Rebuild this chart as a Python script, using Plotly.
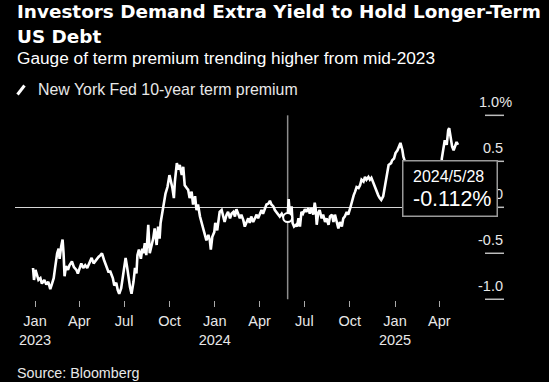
import plotly.graph_objects as go

# ---------------- data ----------------
dates = [
    "2022-12-28", "2022-12-30", "2023-01-02", "2023-01-05", "2023-01-08", "2023-01-12", "2023-01-15",
    "2023-01-20", "2023-01-24", "2023-01-28", "2023-02-01", "2023-02-04", "2023-02-08", "2023-02-11",
    "2023-02-15", "2023-02-18", "2023-02-20", "2023-02-23", "2023-02-26", "2023-02-28", "2023-03-02",
    "2023-03-05", "2023-03-09", "2023-03-12", "2023-03-17", "2023-03-21", "2023-03-26", "2023-03-29",
    "2023-04-01", "2023-04-05", "2023-04-09", "2023-04-13", "2023-04-17", "2023-04-22", "2023-04-26",
    "2023-04-30", "2023-05-05", "2023-05-10", "2023-05-14", "2023-05-17", "2023-05-21", "2023-05-25",
    "2023-05-30", "2023-06-03", "2023-06-08", "2023-06-11", "2023-06-15", "2023-06-18", "2023-06-21",
    "2023-06-25", "2023-06-28", "2023-07-01", "2023-07-04", "2023-07-07", "2023-07-10", "2023-07-13",
    "2023-07-16", "2023-07-20", "2023-07-23", "2023-07-26", "2023-07-28", "2023-07-31", "2023-08-04",
    "2023-08-07", "2023-08-09", "2023-08-12", "2023-08-15", "2023-08-19", "2023-08-22", "2023-08-26",
    "2023-08-29", "2023-09-01", "2023-09-05", "2023-09-08", "2023-09-11", "2023-09-13", "2023-09-16",
    "2023-09-20", "2023-09-23", "2023-09-27", "2023-10-01", "2023-10-04", "2023-10-07", "2023-10-10",
    "2023-10-12", "2023-10-16", "2023-10-19", "2023-10-22", "2023-10-26", "2023-10-29", "2023-11-01",
    "2023-11-05", "2023-11-08", "2023-11-11", "2023-11-15", "2023-11-18", "2023-11-22", "2023-11-25",
    "2023-11-28", "2023-12-02", "2023-12-05", "2023-12-08", "2023-12-12", "2023-12-15", "2023-12-19",
    "2023-12-22", "2023-12-24", "2023-12-27", "2023-12-31", "2024-01-02", "2024-01-06", "2024-01-11",
    "2024-01-15", "2024-01-18", "2024-01-21", "2024-01-25", "2024-01-28", "2024-02-01", "2024-02-04",
    "2024-02-08", "2024-02-11", "2024-02-14", "2024-02-18", "2024-02-21", "2024-02-24", "2024-02-28",
    "2024-03-02", "2024-03-05", "2024-03-09", "2024-03-12", "2024-03-15", "2024-03-19", "2024-03-22",
    "2024-03-26", "2024-03-29", "2024-04-02", "2024-04-05", "2024-04-08", "2024-04-12", "2024-04-15",
    "2024-04-19", "2024-04-22", "2024-04-25", "2024-04-29", "2024-05-02", "2024-05-05", "2024-05-09",
    "2024-05-12", "2024-05-16", "2024-05-19", "2024-05-23", "2024-05-28", "2024-05-30", "2024-05-31",
    "2024-06-02", "2024-06-05", "2024-06-07", "2024-06-10", "2024-06-14", "2024-06-16", "2024-06-19",
    "2024-06-22", "2024-06-25", "2024-06-28", "2024-07-02", "2024-07-05", "2024-07-09", "2024-07-12",
    "2024-07-15", "2024-07-19", "2024-07-22", "2024-07-24", "2024-07-26", "2024-07-29", "2024-08-01",
    "2024-08-05", "2024-08-08", "2024-08-12", "2024-08-15", "2024-08-19", "2024-08-22", "2024-08-26",
    "2024-08-29", "2024-09-01", "2024-09-05", "2024-09-08", "2024-09-11", "2024-09-15", "2024-09-18",
    "2024-09-21", "2024-09-25", "2024-09-28", "2024-10-02", "2024-10-05", "2024-10-09", "2024-10-12",
    "2024-10-15", "2024-10-19", "2024-10-22", "2024-10-25", "2024-10-29", "2024-11-01", "2024-11-04",
    "2024-11-08", "2024-11-11", "2024-11-14", "2024-11-18", "2024-11-21", "2024-11-24", "2024-11-28",
    "2024-12-01", "2024-12-04", "2024-12-08", "2024-12-11", "2024-12-13", "2024-12-17", "2024-12-19",
    "2024-12-24", "2024-12-26", "2024-12-30", "2025-01-02", "2025-01-06", "2025-01-09", "2025-01-12",
    "2025-01-16", "2025-01-18", "2025-01-22", "2025-01-27", "2025-01-31", "2025-02-04", "2025-02-07",
    "2025-02-11", "2025-02-14", "2025-02-19", "2025-02-24", "2025-02-28", "2025-03-04", "2025-03-07",
    "2025-03-11", "2025-03-14", "2025-03-19", "2025-03-24", "2025-03-28", "2025-04-02", "2025-04-04",
    "2025-04-06", "2025-04-09", "2025-04-12", "2025-04-16", "2025-04-19", "2025-04-21", "2025-04-24",
    "2025-04-27", "2025-04-30", "2025-05-03", "2025-05-06", "2025-05-09",
]
term_premium = [
    -0.66, -0.79, -0.68, -0.74, -0.79, -0.77, -0.83,
    -0.79, -0.84, -0.81, -0.89, -0.84, -0.77, -0.65,
    -0.50, -0.45, -0.56, -0.43, -0.35, -0.50, -0.75,
    -0.64, -0.68, -0.63, -0.59, -0.65, -0.68, -0.72,
    -0.66, -0.61, -0.66, -0.63, -0.66, -0.59, -0.55,
    -0.61, -0.57, -0.54, -0.52, -0.50, -0.57, -0.63,
    -0.70, -0.70, -0.77, -0.85, -0.82, -0.90, -0.94,
    -0.88, -0.77, -0.65, -0.55, -0.65, -0.77, -0.87,
    -0.94, -0.81, -0.66, -0.72, -0.52, -0.46, -0.56,
    -0.45, -0.50, -0.39, -0.52, -0.19, -0.50, -0.41,
    -0.34, -0.23, -0.41, -0.21, -0.34, -0.17, -0.08,
    0.03, 0.15, 0.22, 0.35, 0.28, 0.21, 0.10,
    0.28, 0.48, 0.41, 0.46, 0.35, 0.44, 0.24,
    0.21, 0.19, 0.10, 0.17, 0.03, 0.12, -0.03,
    0.03, -0.10, -0.16, -0.21, -0.32, -0.36, -0.30,
    -0.36, -0.46, -0.32, -0.27, -0.17, -0.25, -0.05,
    -0.03, -0.10, -0.16, -0.08, -0.05, -0.12, -0.07,
    -0.05, -0.10, -0.02, -0.07, -0.12, -0.08, -0.14,
    -0.21, -0.16, -0.12, -0.17, -0.10, -0.16, -0.12,
    -0.08, -0.12, -0.07, -0.03, -0.07, -0.01, 0.03,
    0.04, 0.07, 0.03, 0.01, -0.03, -0.05, -0.07,
    -0.10, -0.07, -0.10, -0.12, -0.112, 0.09, -0.03,
    -0.10, 0.01, -0.17, -0.21, -0.19, -0.21, -0.12,
    -0.21, -0.05, -0.07, -0.02, -0.05, -0.01, -0.07,
    -0.01, -0.08, 0.05, -0.02, -0.19, -0.06, -0.03,
    -0.12, -0.08, -0.16, -0.12, -0.19, -0.10, -0.08,
    -0.16, -0.08, -0.19, -0.23, -0.16, -0.21, -0.12,
    -0.10, -0.05, -0.08, -0.01, 0.06, 0.13, 0.17,
    0.22, 0.21, 0.24, 0.30, 0.28, 0.33, 0.30,
    0.33, 0.30, 0.32, 0.26, 0.22, 0.19, 0.13,
    0.10, 0.08, 0.12, 0.21, 0.30, 0.39, 0.46,
    0.48, 0.51, 0.53, 0.59, 0.62, 0.66, 0.70,
    0.62, 0.55, 0.48, 0.43, 0.45, 0.40, 0.45,
    0.49, 0.42, 0.42, 0.31, 0.26, 0.22, 0.32,
    0.30, 0.38, 0.33, 0.42, 0.36, 0.34, 0.26,
    0.53, 0.62, 0.73, 0.68, 0.84, 0.86, 0.73,
    0.66, 0.62, 0.68, 0.71, 0.68,
]

hover_date = ["2024-05-28"]
hover_value = [-0.112]
hover_label = "2024/5/28"

x_tickvals = ["2023-01-01", "2023-04-01", "2023-07-01", "2023-10-01", "2024-01-01",
              "2024-04-01", "2024-07-01", "2024-10-01", "2025-01-01", "2025-04-01"]
x_ticktext = ["Jan<br>2023", "Apr", "Jul", "Oct", "Jan<br>2024",
              "Apr", "Jul", "Oct", "Jan<br>2025", "Apr"]
y_tickvals = [1.0, 0.5, 0.0, -0.5, -1.0]
y_ticktext = ["1.0%", "0.5", "0", "-0.5", "-1.0"]

title_line1 = "Investors Demand Extra Yield to Hold Longer-Term"
title_line2 = "US Debt"
subtitle = "Gauge of term premium trending higher from mid-2023"
series_name = "New York Fed 10-year term premium"
source = "Source: Bloomberg"

# ---------------- layout helpers ----------------
W, H = 549, 382
L, R, T, B = 15, 64, 110, 82
PW, PH = W - L - R, H - T - B


def px(xp):
    return (xp - L) / PW


def py(yp):
    return (H - B - yp) / PH


BODY = "Liberation Sans, Arial, sans-serif"
TITLE = "DejaVu Sans, Verdana, sans-serif"
TXT = "#e8e8e8"

fig = go.Figure()
fig.add_trace(go.Scatter(
    x=dates, y=term_premium, mode="lines", name=series_name,
    line=dict(color="white", width=2.6), showlegend=False, hoverinfo="skip",
))
fig.add_trace(go.Scatter(
    x=hover_date, y=hover_value, mode="markers", showlegend=False, hoverinfo="skip",
    marker=dict(size=9, color="black", line=dict(color="white", width=2)),
))

shapes = []
# hover crosshair (vertical)
shapes.append(dict(type="line", xref="x", yref="y", x0=hover_date[0], x1=hover_date[0],
                   y0=min(y_tickvals), y1=max(y_tickvals),
                   line=dict(color="#8e8e8e", width=1.5), layer="below"))
# right-side short tick marks
for v in y_tickvals:
    shapes.append(dict(type="line", xref="paper", yref="y", x0=1.0, x1=px(504), y0=v, y1=v,
                       line=dict(color="#bdbdbd", width=1.5)))
# legend icon (diagonal stroke)
shapes.append(dict(type="line", xref="paper", yref="paper", x0=px(17.5), y0=py(94.5),
                   x1=px(24.5), y1=py(85.5), line=dict(color="white", width=3)))

ann = []
ann.append(dict(text=f"<b>{title_line1}</b>", x=px(15), y=py(11.5), xref="paper", yref="paper",
                xanchor="left", yanchor="middle", showarrow=False,
                font=dict(family=TITLE, size=18.4, color="white")))
ann.append(dict(text=f"<b>{title_line2}</b>", x=px(15), y=py(36.8), xref="paper", yref="paper",
                xanchor="left", yanchor="middle", showarrow=False,
                font=dict(family=TITLE, size=18.4, color="white")))
ann.append(dict(text=subtitle, x=px(15), y=py(58.5), xref="paper", yref="paper",
                xanchor="left", yanchor="middle", showarrow=False,
                font=dict(family=BODY, size=17.25, color="white")))
ann.append(dict(text=series_name, x=px(36), y=py(89), xref="paper", yref="paper",
                xanchor="left", yanchor="middle", showarrow=False,
                font=dict(family=BODY, size=15.9, color=TXT)))
ann.append(dict(text=source, x=px(15), y=py(373), xref="paper", yref="paper",
                xanchor="left", yanchor="middle", showarrow=False,
                font=dict(family=BODY, size=14.3, color=TXT)))
for v, t in zip(y_tickvals, y_ticktext):
    xr = 505 + (9 if t.endswith("%") else 0)
    ann.append(dict(text=t, x=px(xr), y=v, xref="paper", yref="y", yshift=13.6,
                    xanchor="right", yanchor="middle", showarrow=False,
                    font=dict(family=BODY, size=14.5, color=TXT)))
# tooltip box (drawn after the y labels so it covers them)
ann.append(dict(text=" ", x=px(450.2), y=py(188), xref="paper", yref="paper",
                xanchor="center", yanchor="middle", showarrow=False,
                width=91, height=52, borderpad=1, borderwidth=1.5,
                bgcolor="black", bordercolor="#9a9a9a"))
ann.append(dict(text=hover_label, x=px(410.5), y=py(176), xref="paper", yref="paper",
                xanchor="left", yanchor="middle", showarrow=False,
                font=dict(family=BODY, size=16, color="white")))
ann.append(dict(text=f"{hover_value[0]:.3f}%", x=px(411), y=py(198.5), xref="paper", yref="paper",
                xanchor="left", yanchor="middle", showarrow=False,
                font=dict(family=BODY, size=21.5, color="white")))

fig.update_layout(
    width=W, height=H,
    margin=dict(l=L, r=R, t=T, b=B, pad=0),
    paper_bgcolor="black", plot_bgcolor="black",
    hovermode=False,
    shapes=shapes, annotations=ann,
    xaxis=dict(
        type="date",
        range=["2022-11-21 09:36", "2025-07-02 17:00"],
        tickvals=x_tickvals, ticktext=x_ticktext,
        ticks="outside", ticklen=6, tickwidth=1, tickcolor="#aaaaaa",
        ticklabelstandoff=2,
        showgrid=False, zeroline=False, showline=False,
        tickfont=dict(family=BODY, size=14.5, color=TXT),
        fixedrange=True,
    ),
    yaxis=dict(
        range=[-1.008, 1.058],
        showgrid=False, showticklabels=False, ticks="",
        zeroline=True, zerolinecolor="#d6d6d6", zerolinewidth=1,
        fixedrange=True,
    ),
)

fig.write_html(
    "out.html",
    config={"displayModeBar": False},
    post_script="document.body.style.margin='0';document.body.style.background='black';",
)
